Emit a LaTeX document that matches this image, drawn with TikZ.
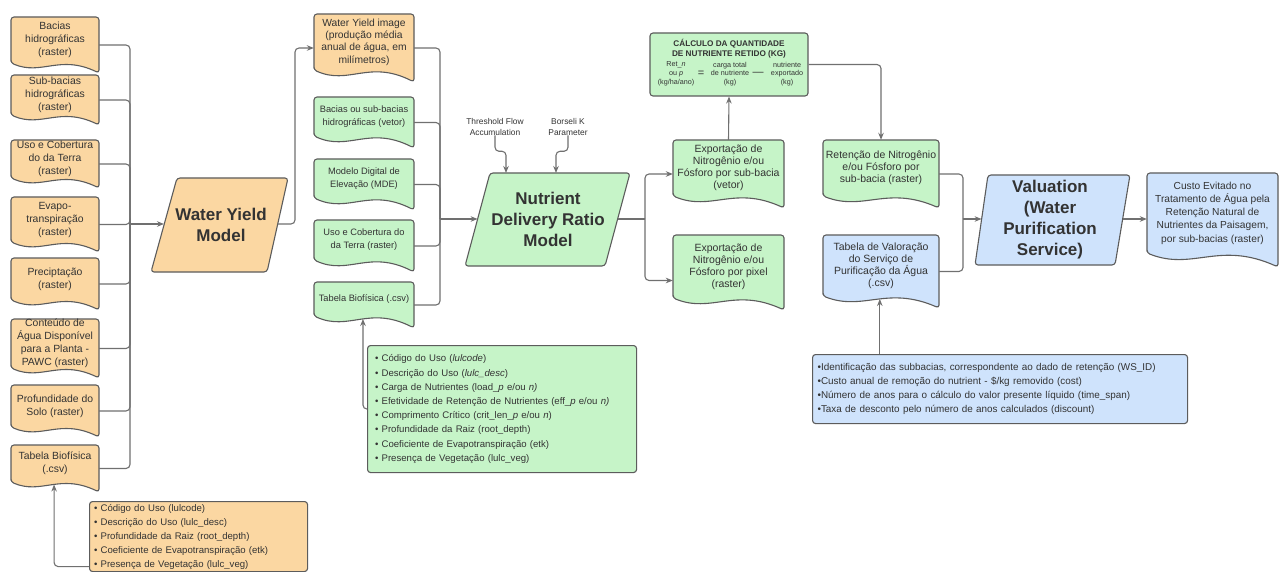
\documentclass[tikz,border=0pt]{standalone}
\usepackage{fontspec}
\setmainfont{Liberation Sans}
\usetikzlibrary{arrows.meta}

\definecolor{orangefill}{HTML}{FBD7A2}
\definecolor{greenfill}{HTML}{C6F4C8}
\definecolor{bluefill}{HTML}{CFE3FC}
\definecolor{edge}{HTML}{5C5C5C}
\definecolor{wire}{HTML}{707070}
\definecolor{ink}{HTML}{333333}

\tikzset{
  shapeline/.style={draw=edge, line width=1.1pt, rounded corners=3, line join=round},
  holder/.style={inner sep=0pt, draw=none},
  lbl/.style={align=center, text=ink, inner sep=0pt},
  lcol/.style={font=\fontsize{10.4}{13}\selectfont},
  wyimg/.style={font=\fontsize{10.3}{12.4}\selectfont},
  mcol/.style={font=\fontsize{9.3}{13}\selectfont},
  rcol/.style={font=\fontsize{10.5}{12}\selectfont},
  custo/.style={font=\fontsize{10.2}{13.3}\selectfont},
  bigtext/.style={lbl, font=\fontsize{17}{21}\selectfont\bfseries},
  smalltext/.style={lbl, font=\fontsize{8.4}{11}\selectfont},
  calctext/.style={lbl, font=\fontsize{7.2}{8.8}\selectfont},
  infobox/.style={shapeline, anchor=north west, align=left, text=ink, inner ysep=0pt},
  conn/.style={draw=wire, line width=1.1pt, rounded corners=4},
  arr/.style={conn, -{Stealth[length=7pt,width=5.5pt]}},
}

\newcommand{\wavedepth}{10}
% document shape: rounded top, wavy bottom; #1 name, #2 fill, #3 x0, #4 y0, #5 x1,
% #6 lowest point of the wave, #7 text style, #8 text
\newcommand{\docbox}[8]{%
  \draw[shapeline, fill=#2] (#3,{#6-\wavedepth}) -- (#3,#4) -- (#5,#4) -- (#5,#6)
    .. controls ({#3+0.55*(#5-#3)},{#6-1.9*\wavedepth}) and ({#3+0.35*(#5-#3)},{#6+0.3*\wavedepth}) ..
    (#3,{#6-\wavedepth}) coordinate[pos=0.47] (#1-bot) -- cycle;
  \node[holder, minimum width={#5-#3}, minimum height={#6-#4}] (#1) at ({(#3+#5)/2},{(#4+#6)/2}) {};
  \node[lbl, #7] (#1-t) at ({(#3+#5)/2},{(#4+#6-\wavedepth)/2}) {#8};
}

\begin{document}
\begin{tikzpicture}[x=1pt, y=-1pt]
\useasboundingbox (0,0) rectangle (1282,572);
\fill[white] (0,0) rectangle (1282,572);

% ---------- Water Yield inputs ----------
\renewcommand{\wavedepth}{10}
\docbox{l1}{orangefill}{11}{17}{99}{73}{lcol}{Bacias\\hidrográficas\\(raster)}
\docbox{l2}{orangefill}{11}{75}{99}{125}{lcol}{Sub-bacias\\hidrográficas\\(raster)}
\docbox{l3}{orangefill}{11}{140}{99}{188}{lcol}{Uso e Cobertura\\do da Terra\\(raster)}
\docbox{l4}{orangefill}{11}{197}{99}{252}{lcol}{Evapo-\\transpiração\\(raster)}
\docbox{l5}{orangefill}{11}{258}{99}{310}{lcol}{Preciptação\\(raster)}
\docbox{l6}{orangefill}{11}{319}{99}{378}{lcol}{Conteúdo de\\Água Disponível\\para a Planta -\\PAWC (raster)}
\docbox{l7}{orangefill}{11}{385}{99}{437}{lcol}{Profundidade do\\Solo (raster)}
\docbox{l8}{orangefill}{11}{445}{99}{492}{lcol}{Tabela Biofísica\\(.csv)}

\node[infobox, fill=orangefill, minimum width=218, minimum height=70, text width=209,
      inner xsep=4.5pt, font=\fontsize{9.6}{14}\selectfont] (oi) at (89,501)
  {• Código do Uso (lulcode)\\
   • Descrição do Uso (lulc\_desc)\\
   • Profundidade da Raiz (root\_depth)\\
   • Coeficiente de Evapotranspiração (etk)\\
   • Presença de Vegetação (lulc\_veg)};

% ---------- Water Yield model ----------
\draw[shapeline, fill=orangefill] (177,178) -- (288,178) -- (267,272) -- (151,272) -- cycle;
\node[bigtext] (wym) at (221,225) {Water Yield\\Model};
\coordinate (wym-w) at (164,224);
\coordinate (wym-e) at (277.5,224);
\coordinate (ltj) at (130,224);
\coordinate (wj) at (295,224);

% ---------- NDR inputs ----------
\renewcommand{\wavedepth}{12}
\docbox{m1}{orangefill}{314}{14}{414}{82}{wyimg}{Water Yield image\\(produção média\\anual de água, em\\milímetros)}
\docbox{m2}{greenfill}{314}{97}{414}{148}{mcol}{Bacias ou sub-bacias\\hidrográficas (vetor)}
\docbox{m3}{greenfill}{314}{159}{414}{210}{mcol}{Modelo Digital de\\Elevação (MDE)}
\docbox{m4}{greenfill}{314}{220}{414}{272}{mcol}{Uso e Cobertura do\\da Terra (raster)}
\docbox{m5}{greenfill}{314}{282}{414}{328}{mcol}{Tabela Biofísica (.csv)}

\node[infobox, fill=greenfill, minimum width=269, minimum height=127, text width=254,
      inner xsep=7.5pt, font=\fontsize{9.6}{14.2}\selectfont] (gi) at (367,345)
  {• Código do Uso (\textit{lulcode})\\
   • Descrição do Uso (\textit{lulc\_desc})\\
   • Carga de Nutrientes (load\_\textit{p} e/ou \textit{n)}\\
   • Efetividade de Retenção de Nutrientes (eff\_\textit{p} e/ou \textit{n)}\\
   • Comprimento Crítico (crit\_len\_\textit{p} e/ou \textit{n})\\
   • Profundidade da Raiz (root\_depth)\\
   • Coeficiente de Evapotranspiração (etk)\\
   • Presença de Vegetação (lulc\_veg)};

% ---------- NDR model ----------
\draw[shapeline, fill=greenfill] (490,173) -- (630,173) -- (605,266) -- (465,266) -- cycle;
\node[bigtext] (ndr) at (548,219) {Nutrient\\Delivery Ratio\\Model};
\coordinate (ndr-w) at (477.6,219);
\coordinate (ndr-e) at (617.6,219);
\coordinate (ndr-t1) at (506,173);
\coordinate (ndr-t2) at (556,173);
\coordinate (mtj) at (440,219);
\coordinate (nj) at (645,219);

\node[smalltext] (thr) at (495,126.5) {Threshold Flow\\Accumulation};
\node[smalltext] (bor) at (568,126.5) {Borseli K\\Parameter};

% ---------- NDR outputs ----------
\docbox{e1}{greenfill}{673}{140}{784}{208}{rcol}{Exportação de\\Nitrogênio e/ou\\Fósforo por sub-bacia\\(vetor)}
\docbox{e2}{greenfill}{673}{235}{784}{310}{rcol}{Exportação de\\Nitrogênio e/ou\\Fósforo por pixel\\(raster)}

% retained nutrient calculation
\node[shapeline, fill=greenfill, minimum width=158, minimum height=63, inner sep=0pt] (calc) at (729,64.5) {};
\node[lbl, font=\fontsize{8.2}{10}\selectfont\bfseries] (calc-title) at (729,49) {CÁLCULO DA QUANTIDADE\\DE NUTRIENTE RETIDO (KG)};
\node[calctext] (calc-a) at (676,74) {Ret\_\textit{n}\\ou \textit{p}\\(kg/ha/ano)};
\node[lbl, font=\fontsize{11}{11}\selectfont] (calc-eq) at (701,74) {=};
\node[calctext] (calc-b) at (730,74) {carga total\\de nutriente\\(kg)};
\node[lbl, font=\fontsize{11}{11}\selectfont] (calc-minus) at (758,74) {—};
\node[calctext] (calc-c) at (787,74) {nutriente\\exportado\\(kg)};

% ---------- Valuation inputs ----------
\docbox{ret}{greenfill}{823}{140}{939}{208}{rcol}{Retenção de Nitrogênio\\e/ou Fósforo por\\sub-bacia (raster)}
\docbox{tv}{bluefill}{823}{235}{939}{308}{rcol}{Tabela de Valoração\\do Serviço de\\Purificação da Água\\(.csv)}

\node[infobox, fill=bluefill, minimum width=375, minimum height=69, text width=365,
      inner xsep=5pt, font=\fontsize{9.9}{14}\selectfont] (bi) at (812,354)
  {•Identificação das subbacias, correspondente ao dado de retenção (WS\_ID)\\
   •Custo anual de remoção do nutrient - \$/kg removido (cost)\\
   •Número de anos para o cálculo do valor presente líquido (time\_span)\\
   •Taxa de desconto pelo número de anos calculados (discount)};

% ---------- Valuation model ----------
\draw[shapeline, fill=bluefill] (988,175) -- (1130,175) -- (1115,265) -- (975,265) -- cycle;
\node[bigtext] (val) at (1050,220) {Valuation\\(Water\\Purification\\Service)};
\coordinate (val-w) at (981.6,219);
\coordinate (val-e) at (1122.7,219);
\coordinate (vj) at (963,219);

\renewcommand{\wavedepth}{14}
\docbox{cu}{bluefill}{1147}{173}{1278}{267}{custo}{Custo Evitado no\\Tratamento de Água pela\\Retenção Natural de\\Nutrientes da Paisagem,\\por sub-bacias (raster)}

% ---------- connectors ----------
\foreach \n in {l1,l2,l3,l4,l5,l6,l7,l8}
  \draw[conn] (\n.east) -| (ltj);
\draw[arr] (ltj) -- (wym-w);
\draw[arr] ([yshift=-30pt]oi.west) -| (l8-bot);

\draw[arr] (wym-e) -- (wj) |- (m1.west);

\foreach \n in {m1,m2,m3,m4,m5}
  \draw[conn] (\n.east) -| (mtj);
\draw[arr] (mtj) -- (ndr-w);
\draw[arr] (gi.west) -| (m5-bot);

\draw[arr] (thr.south) -- ++(0,16) -| (ndr-t1);
\draw[arr] (bor.south) -- ++(0,16) -| (ndr-t2);

\draw[conn] (ndr-e) -- (nj);
\draw[arr] (nj) |- (e1.west);
\draw[arr] (nj) |- ([yshift=-8pt]e2.west);

\draw[arr] (e1.north) -- (calc.south);
\draw[arr] (calc.east) -| (ret.north);

\draw[conn] (ret.east) -| (vj);
\draw[conn] (tv.east) -| (vj);
\draw[arr] (vj) -- (val-w);
\draw[arr] (bi.north -| tv-bot) -- (tv-bot);

\draw[arr] (val-e) -- (val-e -| cu.west);
\end{tikzpicture}
\end{document}
